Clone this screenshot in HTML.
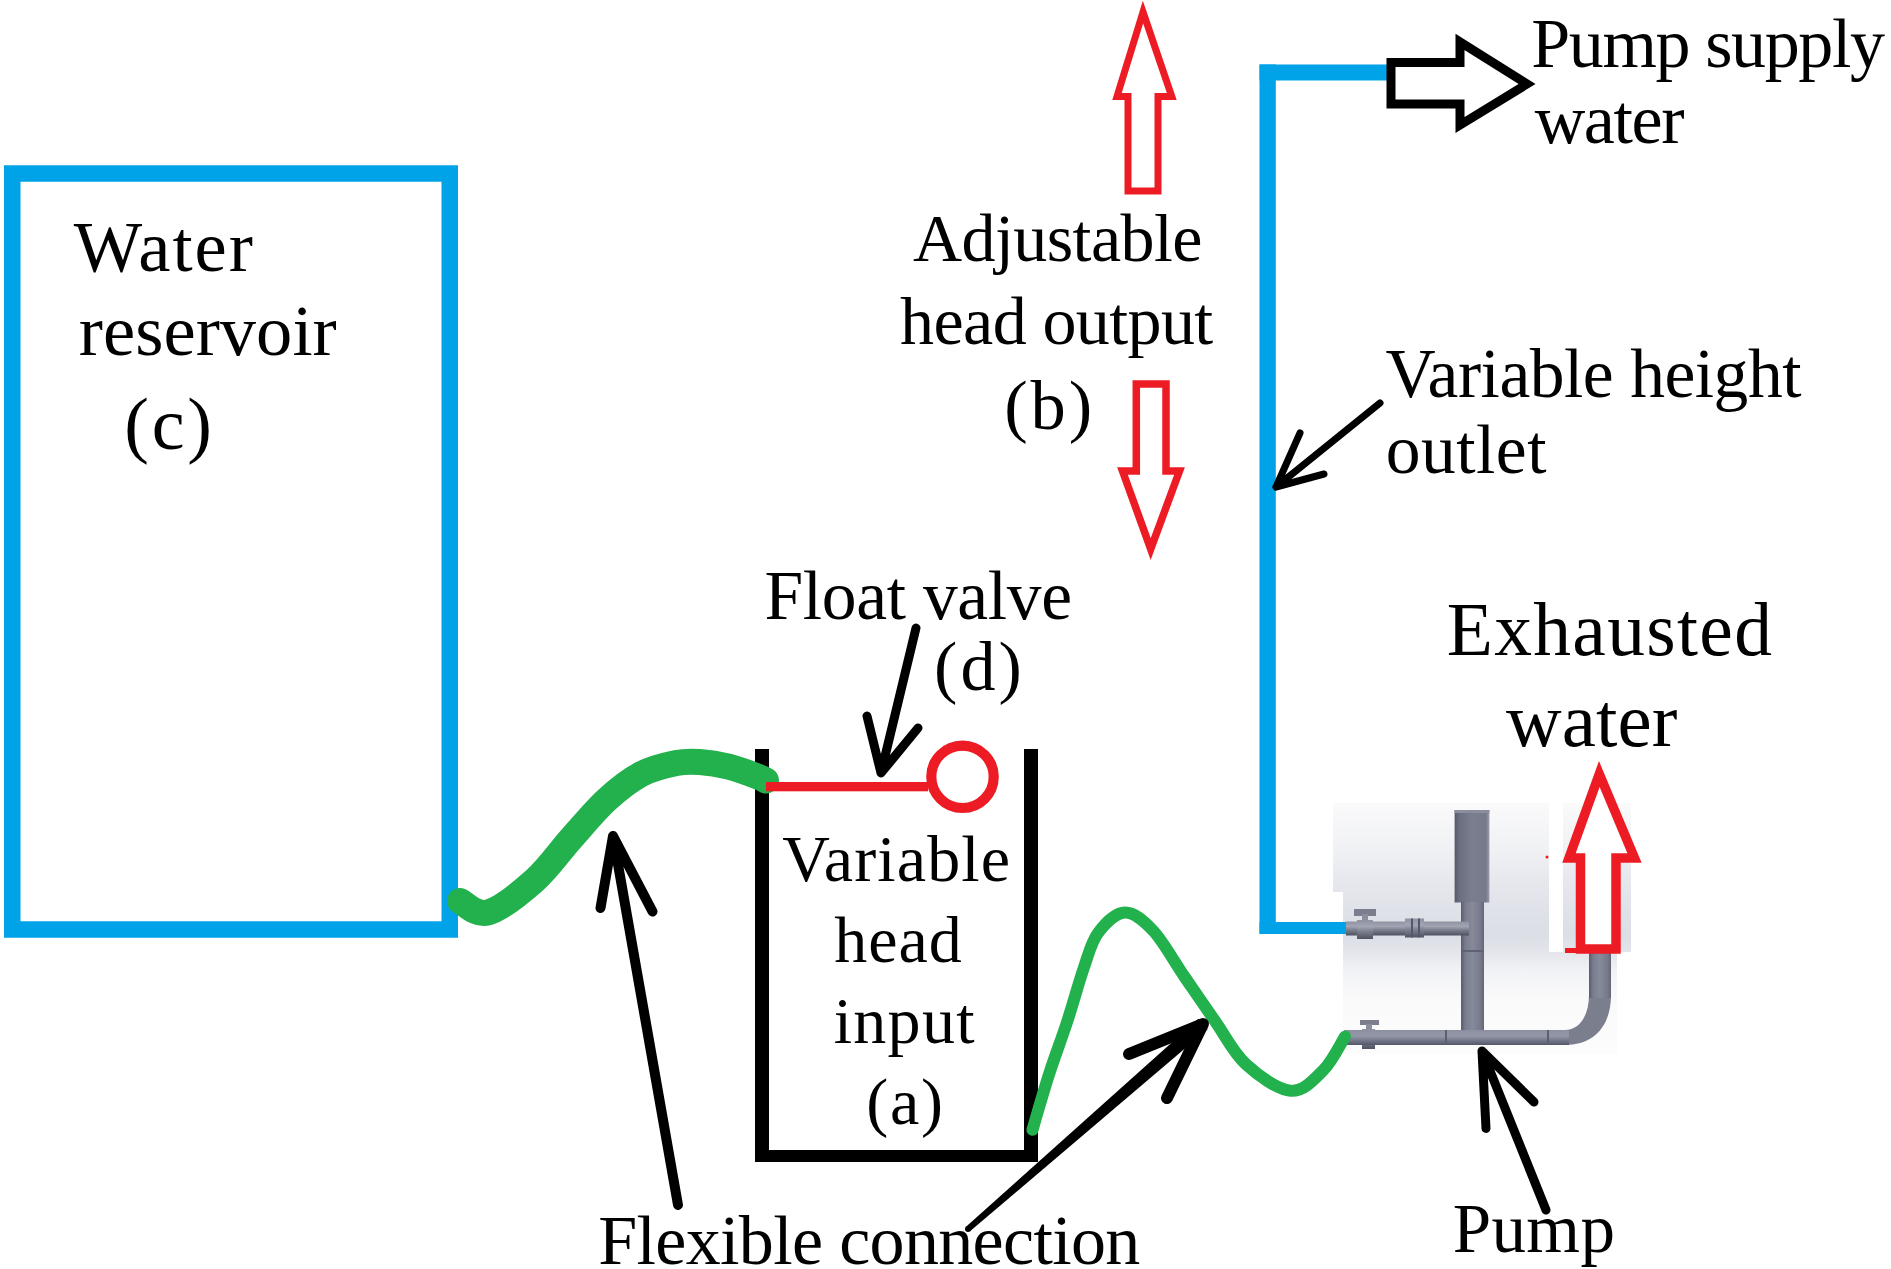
<!DOCTYPE html>
<html><head><meta charset="utf-8"><style>
html,body{margin:0;padding:0;background:#fff;}
svg{display:block;}
text{font-family:"Liberation Serif",serif;fill:#000;}
</style></head><body>
<svg width="1891" height="1269" viewBox="0 0 1891 1269">
<defs>
<linearGradient id="pg" x1="0" y1="803" x2="0" y2="1054" gradientUnits="userSpaceOnUse">
<stop offset="0" stop-color="#fafafb"/>
<stop offset="0.187" stop-color="#f0f1f4"/>
<stop offset="0.307" stop-color="#e7e8ee"/>
<stop offset="0.426" stop-color="#e0e2e9"/>
<stop offset="0.526" stop-color="#dcdee6"/>
<stop offset="0.586" stop-color="#e2e4ea"/>
<stop offset="0.665" stop-color="#f1f2f5"/>
<stop offset="0.785" stop-color="#fafafb"/>
<stop offset="1" stop-color="#fcfcfc"/>
</linearGradient>
<linearGradient id="pv" x1="0" x2="1" y1="0" y2="0">
<stop offset="0" stop-color="#55586a"/><stop offset="0.12" stop-color="#6a6d7e"/><stop offset="0.5" stop-color="#7b7e8f"/><stop offset="0.9" stop-color="#767989"/><stop offset="1" stop-color="#9a9cab"/>
</linearGradient>
<linearGradient id="pv2" x1="0" x2="1" y1="0" y2="0">
<stop offset="0" stop-color="#5a5d6c"/><stop offset="0.2" stop-color="#7a7d8e"/><stop offset="0.5" stop-color="#878a9b"/><stop offset="0.85" stop-color="#767989"/><stop offset="1" stop-color="#636676"/>
</linearGradient>
<linearGradient id="ph" x1="0" x2="0" y1="0" y2="1">
<stop offset="0" stop-color="#8f92a1"/><stop offset="0.35" stop-color="#a2a5b3"/><stop offset="0.6" stop-color="#7c7f8e"/><stop offset="1" stop-color="#4f5260"/>
</linearGradient>
<linearGradient id="ph2" x1="0" x2="0" y1="0" y2="1">
<stop offset="0" stop-color="#8c8fa0"/><stop offset="0.4" stop-color="#9497a6"/><stop offset="0.7" stop-color="#74778a"/><stop offset="1" stop-color="#545766"/>
</linearGradient>
</defs>
<!-- reservoir -->
<rect x="12.25" y="173.5" width="437.5" height="756" fill="none" stroke="#00a2e8" stroke-width="16.5"/>
<!-- pump background -->
<path d="M1333,803 H1549 V952 H1563 V803 H1631 V952 H1617 V1054 H1343 V892 H1333 Z" fill="url(#pg)"/>
<!-- blue pipe -->
<rect x="1259.5" y="64.5" width="16.3" height="869.5" fill="#00a2e8"/>
<rect x="1259.5" y="64.5" width="128" height="16" fill="#00a2e8"/>
<rect x="1259.5" y="922" width="86.5" height="12" fill="#00a2e8"/>
<!-- pump pipes -->
<g>
<rect x="1454.6" y="810" width="34.8" height="92.5" fill="url(#pv)"/>
<rect x="1454.6" y="810" width="34.8" height="3" fill="#8a8d9c"/>
<rect x="1461" y="902" width="23" height="133" fill="url(#pv2)"/>
<rect x="1461" y="950" width="23" height="2" fill="#5f6270"/>
<rect x="1346" y="921.5" width="123" height="14" fill="url(#ph)"/>
<rect x="1405" y="918.5" width="19" height="19" fill="url(#ph)"/>
<rect x="1411" y="918.5" width="2" height="19" fill="#55586a"/>
<rect x="1418" y="918.5" width="2" height="19" fill="#55586a"/>
<rect x="1354" y="909" width="22" height="7" fill="#7b7e8d"/>
<rect x="1362" y="914" width="6" height="8" fill="#8a8d9c"/>
<rect x="1357" y="920" width="16" height="19" fill="url(#ph)"/>
<rect x="1360" y="1020" width="19" height="5" fill="#7b7e8d"/>
<rect x="1366" y="1024" width="6" height="7" fill="#8a8d9c"/>
<rect x="1362" y="1029" width="13" height="20" fill="url(#ph)"/>
<path d="M1589,953 H1611 V995 C1611,1025 1595,1045 1565,1045 H1344 V1030 H1565 C1580,1030 1589,1015 1589,995 Z" fill="#7b7e8d"/>
<rect x="1344" y="1030" width="225" height="15" fill="url(#ph2)"/>
<rect x="1589" y="953" width="22" height="45" fill="url(#pv2)"/>
<rect x="1445" y="1030" width="2" height="15" fill="#5d606c"/>
<rect x="1547" y="1030" width="2" height="15" fill="#5d606c"/>
</g>
<!-- bucket -->
<g fill="#000">
<rect x="755" y="749" width="14" height="413"/>
<rect x="755" y="1150" width="283" height="12"/>
<rect x="1024" y="749" width="14" height="413"/>
</g>
<!-- green hose 1 -->
<path d="M460.0,901.0 C464.7,902.9 475.5,915.9 488.0,912.4 C500.5,908.9 521.1,892.4 535.0,880.0 C548.9,867.6 559.7,851.3 571.6,838.0 C583.5,824.7 594.9,810.7 606.5,800.0 C618.1,789.3 629.8,780.2 641.4,774.0 C653.0,767.8 666.6,765.0 676.3,763.0 C686.0,761.0 690.9,761.4 699.6,762.0 C708.3,762.6 719.0,764.3 728.7,766.7 C738.4,769.1 751.6,774.3 757.8,776.6 C764.0,778.9 764.6,779.9 766.0,780.5" fill="none" stroke="#22b14c" stroke-width="26" stroke-linecap="round"/>
<!-- green hose 2 -->
<path d="M1032.5,1129.8 C1035.2,1120.6 1043.2,1092.5 1049.0,1074.4 C1054.8,1056.3 1061.6,1038.8 1067.4,1021.0 C1073.2,1003.2 1078.7,982.6 1083.8,967.9 C1088.9,953.2 1091.2,942.2 1098.0,933.0 C1104.8,923.8 1115.6,912.8 1124.8,912.5 C1134.0,912.2 1143.5,920.4 1153.4,931.0 C1163.3,941.6 1173.7,961.0 1184.0,976.0 C1194.3,991.0 1204.7,1006.3 1215.0,1021.0 C1225.3,1035.7 1233.1,1052.4 1245.7,1064.0 C1258.3,1075.6 1277.7,1089.8 1290.7,1090.8 C1303.7,1091.8 1314.5,1079.0 1323.5,1070.0 C1332.5,1061.0 1341.4,1042.1 1345.0,1036.5" fill="none" stroke="#22b14c" stroke-width="12" stroke-linecap="round"/>
<!-- float valve -->
<rect x="766" y="782" width="162" height="9.3" fill="#ed1c24"/>
<circle cx="962.5" cy="776.8" r="31.2" fill="none" stroke="#ed1c24" stroke-width="10.2"/>
<!-- black line arrows -->
<g fill="none" stroke="#000" stroke-linecap="round" stroke-linejoin="round">
<path d="M916,628 L881,773 M867,716 L881,773 L918,728" stroke-width="9"/>
<path d="M678,1205 L613,836 M600.5,908 L613,836 L652.5,911.5" stroke-width="10"/>
<path d="M1129,1054 L1203,1024 L1167,1098" stroke-width="12"/>
<path d="M1546,1210 L1482,1051 M1486,1128.5 L1482,1051 L1534,1102" stroke-width="9"/>
<path d="M1380,403 L1276,487 M1300,433 L1276,487 L1324,474" stroke-width="7"/>
</g>
<path d="M966,1226.7 L1198.4,1018.7 L1207.6,1029.3 L970,1231.3 Z" fill="#000"/>
<circle cx="968" cy="1229" r="3" fill="#000"/>
<!-- red outline arrows -->
<g fill="none" stroke="#ed1c24" stroke-linejoin="miter" stroke-miterlimit="10">
<path d="M1143,12 L1171.8,96.5 H1158 V191 H1128 V96.5 H1117 Z" stroke-width="7"/>
<path d="M1136.3,384 H1166 V471 H1179.5 L1150.7,549 L1122.5,471 H1136.3 Z" stroke-width="7.5"/>
<path d="M1599.3,774 L1634.5,858 H1616 V949 H1580.5 V858 H1569 Z" fill="#fff" stroke-width="9.5"/>
</g>
<rect x="1565" y="948" width="20" height="5" fill="#ed1c24"/>
<circle cx="1547" cy="857" r="1.5" fill="#ed1c24"/>
<!-- black outline arrow -->
<path d="M1391,62.6 H1460 V42 L1527,84 L1460,125 V104 H1391 Z" fill="#fff" stroke="#000" stroke-width="9" stroke-linejoin="miter"/>

<g>
<text x="73.70" y="271.00" font-size="72.5" letter-spacing="1.981">Water</text>
<text x="78.85" y="354.60" font-size="72.5" letter-spacing="0.025">reservoir</text>
<text x="124.34" y="449.20" font-size="74" letter-spacing="2.740">(c)</text>
<text x="912.92" y="261.30" font-size="68" letter-spacing="-0.558">Adjustable</text>
<text x="900.12" y="343.80" font-size="68" letter-spacing="-0.604">head output</text>
<text x="1004.18" y="429.10" font-size="70.5" letter-spacing="2.930">(b)</text>
<text x="1531.20" y="67.30" font-size="70" letter-spacing="-1.370">Pump supply</text>
<text x="1534.70" y="143.00" font-size="70" letter-spacing="-1.400">water</text>
<text x="1385.51" y="397.10" font-size="69.5" letter-spacing="-0.476">Variable height</text>
<text x="1385.82" y="472.80" font-size="69.5" letter-spacing="0.483">outlet</text>
<text x="764.51" y="618.60" font-size="69.5" letter-spacing="-0.310">Float valve</text>
<text x="933.90" y="689.50" font-size="70" letter-spacing="3.200">(d)</text>
<text x="1446.73" y="655.20" font-size="75.5" letter-spacing="1.342">Exhausted</text>
<text x="1506.00" y="746.00" font-size="77" letter-spacing="0.082">water</text>
<text x="782.34" y="881.10" font-size="66" letter-spacing="1.123">Variable</text>
<text x="834.34" y="961.70" font-size="66" letter-spacing="0.927">head</text>
<text x="833.68" y="1043.30" font-size="66" letter-spacing="1.305">input</text>
<text x="866.26" y="1124.40" font-size="66" letter-spacing="1.760">(a)</text>
<text x="598.30" y="1264.40" font-size="70" letter-spacing="-0.667">Flexible connection</text>
<text x="1452.63" y="1251.60" font-size="69" letter-spacing="0.423">Pump</text>
</g>
</svg>
</body></html>
